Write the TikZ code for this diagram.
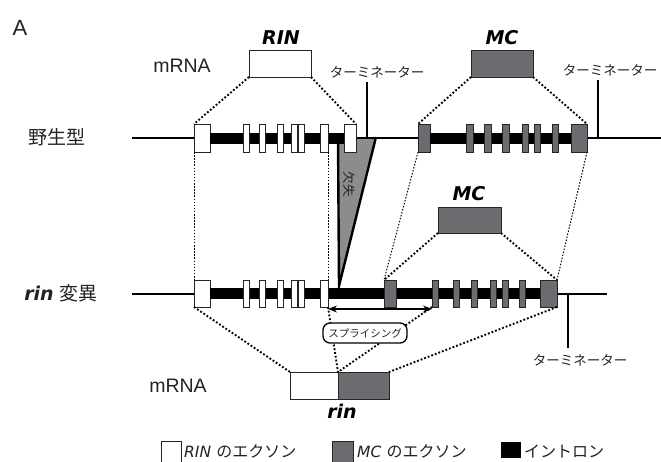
\documentclass[tikz,border=0pt]{standalone}
\usepackage{fontspec}
\setmainfont{Liberation Sans}
\newfontfamily\jp{Noto Sans CJK JP}
\newfontfamily\vd{DejaVu Sans}
\usetikzlibrary{arrows.meta}
\definecolor{mcgray}{RGB}{108,108,112}
\definecolor{delgray}{RGB}{140,140,140}
\definecolor{txt}{RGB}{35,35,35}
\newcommand\ex[6]{\node[#1, minimum width={(#4)-(#3)}, minimum height={(#6)-(#5)}] (#2) at ({((#3)+(#4))/2},{((#5)+(#6))/2}) {};}
\newcommand\fs[1]{\fontsize{#1}{#1}\selectfont}
\begin{document}
\begin{tikzpicture}[x=1pt,y=-1pt,
  wex/.style={rectangle, draw=black!85, fill=white, line width=0.9pt, inner sep=0pt, outer sep=0pt},
  gex/.style={wex, fill=mcgray},
  gline/.style={line width=1.8pt, line cap=butt},
  dotk/.style={line width=1.9pt, dash pattern=on 1.8pt off 2pt},
  dotn/.style={line width=1pt, dash pattern=on 1.5pt off 1.6pt},
  term/.style={text=txt, font=\jp\fs{13.5}, inner sep=0pt},
  bigjp/.style={text=txt, font=\jp\fs{19}, inner sep=0pt},
  gname/.style={font=\vd\bfseries\itshape\fs{19}, inner sep=0pt},
  mrna/.style={font=\fs{19.5}, inner sep=0pt, text=txt},
  legtxt/.style={anchor=west, inner sep=0pt, text=txt}]
\useasboundingbox (0,0) rectangle (661,461);
\fill[white] (0,0) rectangle (661,461);

% deletion triangle
\coordinate (d1) at (338,137);
\coordinate (d2) at (376,137);
\coordinate (d3) at (339,286);
\fill[delgray] (d1) -- (d2) -- (d3) -- cycle;
\draw[line width=2.4pt, line join=miter] (d2) -- (d3) -- (d1);

% gene lines
\coordinate (wtL) at (132,138);
\coordinate (wtR) at (661,138);
\draw[gline] (wtL) -- (wtR);
\coordinate (rnL) at (132,294);
\coordinate (rnR) at (607,294);
\draw[gline] (rnL) -- (rnR);

% outer exons
\ex{wex}{w1}{194}{210}{124}{152}
\ex{wex}{w8}{344}{356}{124}{152}
\ex{gex}{m1}{418}{430}{124}{152}
\ex{gex}{m8}{571}{587}{124}{152}
\ex{wex}{r1}{194}{210}{280}{307}
\ex{gex}{n8}{540}{557}{280}{307}

% introns (black bars)
\fill ([yshift=5.5pt]w1.east) rectangle ([yshift=-5.5pt]w8.west);
\fill ([yshift=5.5pt]m1.east) rectangle ([yshift=-5.5pt]m8.west);
\fill ([yshift=5.5pt]r1.east) rectangle ([yshift=-5.5pt]n8.west);

% inner exons
\ex{wex}{w2}{243}{249}{124}{152}
\ex{wex}{w3}{259}{265}{124}{152}
\ex{wex}{w4}{277}{283}{124}{152}
\ex{wex}{w5}{291}{297}{124}{152}
\ex{wex}{w6}{298}{304}{124}{152}
\ex{wex}{w7}{320}{328}{124}{152}
\ex{gex}{m2}{466}{473}{124}{152}
\ex{gex}{m3}{484}{491}{124}{152}
\ex{gex}{m4}{502}{509}{124}{152}
\ex{gex}{m5}{522}{528}{124}{152}
\ex{gex}{m6}{534}{540}{124}{152}
\ex{gex}{m7}{552}{558}{124}{152}
\ex{wex}{r2}{243}{249}{280}{307}
\ex{wex}{r3}{259}{265}{280}{307}
\ex{wex}{r4}{277}{283}{280}{307}
\ex{wex}{r5}{291}{297}{280}{307}
\ex{wex}{r6}{298}{304}{280}{307}
\ex{wex}{r7}{320}{328}{280}{307}
\ex{gex}{n1}{384}{396}{280}{307}
\ex{gex}{n2}{432}{438}{280}{307}
\ex{gex}{n3}{453}{459}{280}{307}
\ex{gex}{n4}{471}{477}{280}{307}
\ex{gex}{n5}{490}{496}{280}{307}
\ex{gex}{n6}{502}{508}{280}{307}
\ex{gex}{n7}{519}{525}{280}{307}

% terminators
\coordinate (t1b) at (367,138); \coordinate (t1t) at (367,82);
\coordinate (t2b) at (598,138); \coordinate (t2t) at (598,80);
\coordinate (t3b) at (568,294); \coordinate (t3t) at (568,348);
\draw[gline] (t1b) -- (t1t);
\draw[gline] (t2b) -- (t2t);
\draw[gline] (t3b) -- (t3t);
\node[term] (tl1) at (377,72) {ターミネーター};
\node[term] (tl2) at (610,70) {ターミネーター};
\node[term] (tl3) at (580,360) {ターミネーター};

% mRNA boxes
\ex{wex}{rinm}{249}{311}{50}{77}
\ex{gex}{mcm}{471}{533}{50}{77}
\ex{gex}{mcmid}{438}{501}{207}{233}
\ex{wex}{rinw}{290}{338}{372}{399}
\ex{gex}{rinmc}{338}{389}{372}{399}

% labels
\node[font=\fs{22}, inner sep=0pt, text=txt] (lblA) at (20,28) {A};
\node[mrna] (mr1) at (182,66) {mRNA};
\node[mrna] (mr2) at (178,386) {mRNA};
\node[gname] (gRIN) at (281,38) {RIN};
\node[gname] (gMC1) at (502,38) {MC};
\node[gname] (gMC2) at (469,194) {MC};
\node[gname] (grin) at (342,411) {rin};
\node[bigjp] (wt) at (57,137) {野生型};
\node[inner sep=0pt, text=txt] (mut) at (61,293) {{\vd\bfseries\itshape\fs{19}rin}\,{\jp\fs{19} 変異}};
\node[text=txt, font=\jp\fs{12.5}, rotate=-90, inner sep=0pt] (del) at (349,184) {欠失};

% thick dotted connectors
\draw[dotk] (rinm.south west) -- (w1.north west);
\draw[dotk] (rinm.south east) -- (w8.north east);
\draw[dotk] (mcm.south west) -- (m1.north west);
\draw[dotk] (mcm.south east) -- (m8.north east);
\draw[dotk] (mcmid.south west) -- (n1.north west);
\draw[dotk] (mcmid.south east) -- (n8.north east);
\draw[dotk] (r1.south west) -- (rinw.north west);
\draw[dotk] (n8.south east) -- (rinmc.north east);
\draw[dotk] (r7.south east) -- (rinw.north east);
\draw[dotk] (n2.south west) -- (rinw.north east);
% thin dotted connectors
\draw[dotn] (w1.south west) -- (r1.north west);
\draw[dotn] (w7.south east) -- (r7.north east);
\draw[dotn] (m1.south west) -- (n1.north west);
\draw[dotn] (m8.south east) -- (n8.north east);

% splicing arrow and label
\draw[line width=1.1pt, {Stealth[length=9pt,width=7pt]}-{Stealth[length=9pt,width=7pt]}]
  ([yshift=-2pt]r7.south east) -- ([yshift=-2pt]n2.south west);
\node[draw, line width=1.3pt, fill=white, rounded corners=7pt, minimum width=84pt, minimum height=20pt, inner sep=0pt, text=txt, font=\jp\fs{10.5}] (spl) at (365,333) {スプライシング};

% legend
\ex{wex}{lw}{161}{181}{441}{463}
\ex{gex}{lg}{332}{353}{441}{463}
\node[rectangle, fill=black, minimum width=20pt, minimum height=16pt, inner sep=0pt] (lb) at (511,450) {};
\node[legtxt] (lwt) at (184,451) {{\vd\itshape\fs{15.5}RIN}\,{\jp\fs{16} のエクソン}};
\node[legtxt] (lgt) at (357,451) {{\vd\itshape\fs{15.5}MC}\,{\jp\fs{16} のエクソン}};
\node[legtxt] (lbt) at (524,451) {{\jp\fs{16}イントロン}};
\end{tikzpicture}
\end{document}
